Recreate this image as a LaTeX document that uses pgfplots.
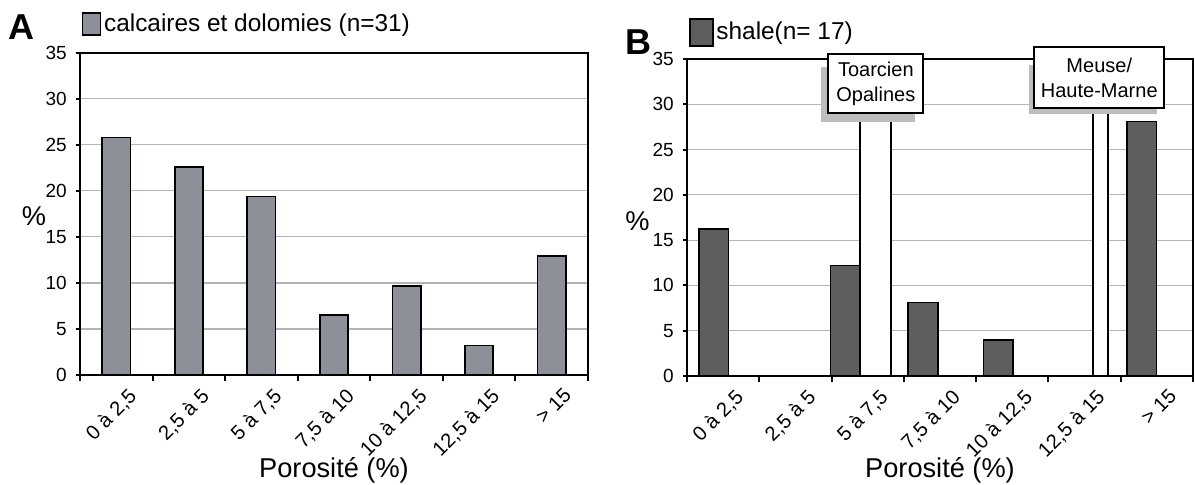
\documentclass[border=0pt]{standalone}
\usepackage{pgfplots}
\pgfplotsset{compat=1.18}
\usepackage{fontspec}
\setmainfont{Liberation Sans}
\definecolor{barA}{HTML}{8E9099}
\definecolor{barB}{HTML}{5E5E5E}
\definecolor{gridc}{HTML}{B4B4B4}
\definecolor{shad}{HTML}{BDBDBD}

\pgfplotsset{
  common/.style={
    scale only axis,
    anchor=south west,
    xmin=-0.5, xmax=6.5, ymin=0, ymax=35,
    ytick={0,5,...,35},
    xtick={0.15,1.15,...,6.15},
    xticklabels={{0 à 2,5},{2,5 à 5},{5 à 7,5},{7,5 à 10},{10 à 12,5},{12,5 à 15},{> 15}},
    minor xtick={-0.5,0.5,...,6.5},
    major x tick style={draw=none},
    minor tick length=3bp,
    major tick length=2.2bp,
    tick align=outside,
    xtick pos=bottom, ytick pos=left,
    ymajorgrids,
    major grid style={gridc, line width=0.6bp},
    axis line style={line width=1.1bp},
    every tick/.style={black, line width=1bp},
    /pgf/number format/assume math mode=true,
    yticklabel style={font=\fontsize{9.5bp}{11bp}\selectfont, inner sep=0pt, xshift=-4.2bp},
    xticklabel shift=3.5bp,
    xticklabel style={font=\fontsize{10.1bp}{12bp}\selectfont, inner sep=0pt, rotate=45, anchor=north east},
    xlabel={Porosité (\%)},
    ylabel={\%},
    label style={font=\fontsize{13.6bp}{16bp}\selectfont},
    ylabel style={rotate=-90, anchor=center},
    xlabel style={anchor=center},
    legend style={draw=none, fill=none, inner sep=0pt, outer sep=0pt, anchor=west,
      font=\fontsize{12.2bp}{14bp}\selectfont, nodes={inner sep=1.4bp}},
  }
}

\begin{document}
\begin{tikzpicture}
\useasboundingbox (0,0) rectangle (597.5bp,242.5bp);

% Panel A
\begin{axis}[common,
  at={(40bp,55bp)}, width=254bp, height=161.15bp,
  xlabel style={at={(axis description cs:0.5,-0.297)}},
  ylabel style={at={(axis description cs:-0.0906,0.493)}},
  legend style={at={(axis description cs:0.0033,1.089)}},
]
\addplot[ybar, bar width=0.39, bar shift=0pt, fill=barA, draw=black, line width=0.85bp,
  legend image code/.code={\draw[fill=barA, draw=black, line width=0.8bp] (0bp,-5.5bp) rectangle (9bp,5.5bp);}]
  coordinates {(0,25.8) (1,22.6) (2,19.4) (3,6.5) (4,9.7) (5,3.2) (6,12.9)};
\addlegendentry{calcaires et dolomies (n=31)}
\end{axis}
\node[anchor=base west, inner sep=0pt, font=\fontsize{18bp}{20bp}\selectfont\bfseries] at (4bp,222.5bp) {A};

% Panel B
\begin{axis}[common,
  at={(343.5bp,54.5bp)}, width=253bp, height=158.5bp,
  xlabel style={at={(axis description cs:0.5,-0.299)}},
  ylabel style={at={(axis description cs:-0.098,0.489)}},
  legend style={at={(axis description cs:0.004,1.0836)}},
]
\addplot[ybar, bar width=0.41, bar shift=0pt, fill=barB, draw=black, line width=0.85bp,
  legend image code/.code={\draw[fill=barB, draw=black, line width=0.8bp] (0bp,-6.75bp) rectangle (11.5bp,6.75bp);}]
  coordinates {(-0.133,16.2) (1.69,12.2) (2.763,8.1) (3.805,4.0) (5.79,28.1)};
\addlegendentry{shale(n= 17)}
\addplot[ybar, bar width=0.425, bar shift=0pt, fill=white, draw=black, line width=0.85bp, forget plot]
  coordinates {(2.106,33)};
\addplot[ybar, bar width=0.216, bar shift=0pt, fill=white, draw=black, line width=0.85bp, forget plot]
  coordinates {(5.22,33)};
\coordinate (ts1) at (axis cs:1.35,28.08);
\coordinate (ts2) at (axis cs:2.654,34.15);
\coordinate (tb1) at (axis cs:1.455,29.0);
\coordinate (tb2) at (axis cs:2.769,35.55);
\coordinate (tc) at (axis cs:2.112,32.275);
\coordinate (ms1) at (axis cs:4.231,28.93);
\coordinate (ms2) at (axis cs:6.0,34.34);
\coordinate (mb1) at (axis cs:4.304,29.56);
\coordinate (mb2) at (axis cs:6.103,36.29);
\coordinate (mc) at (axis cs:5.2035,32.925);
\end{axis}
\fill[shad] (ts1) rectangle (ts2);
\draw[fill=white, line width=1bp] (tb1) rectangle (tb2);
\node[align=center, inner sep=0pt, font=\fontsize{10bp}{12.5bp}\selectfont] at (tc) {Toarcien\\Opalines};
\fill[shad] (ms1) rectangle (ms2);
\draw[fill=white, line width=1bp] (mb1) rectangle (mb2);
\node[align=center, inner sep=0pt, font=\fontsize{10bp}{12.5bp}\selectfont] at (mc) {Meuse/\\Haute-Marne};
\node[anchor=base west, inner sep=0pt, font=\fontsize{18bp}{20bp}\selectfont\bfseries] at (312.5bp,215bp) {B};
\end{tikzpicture}
\end{document}
